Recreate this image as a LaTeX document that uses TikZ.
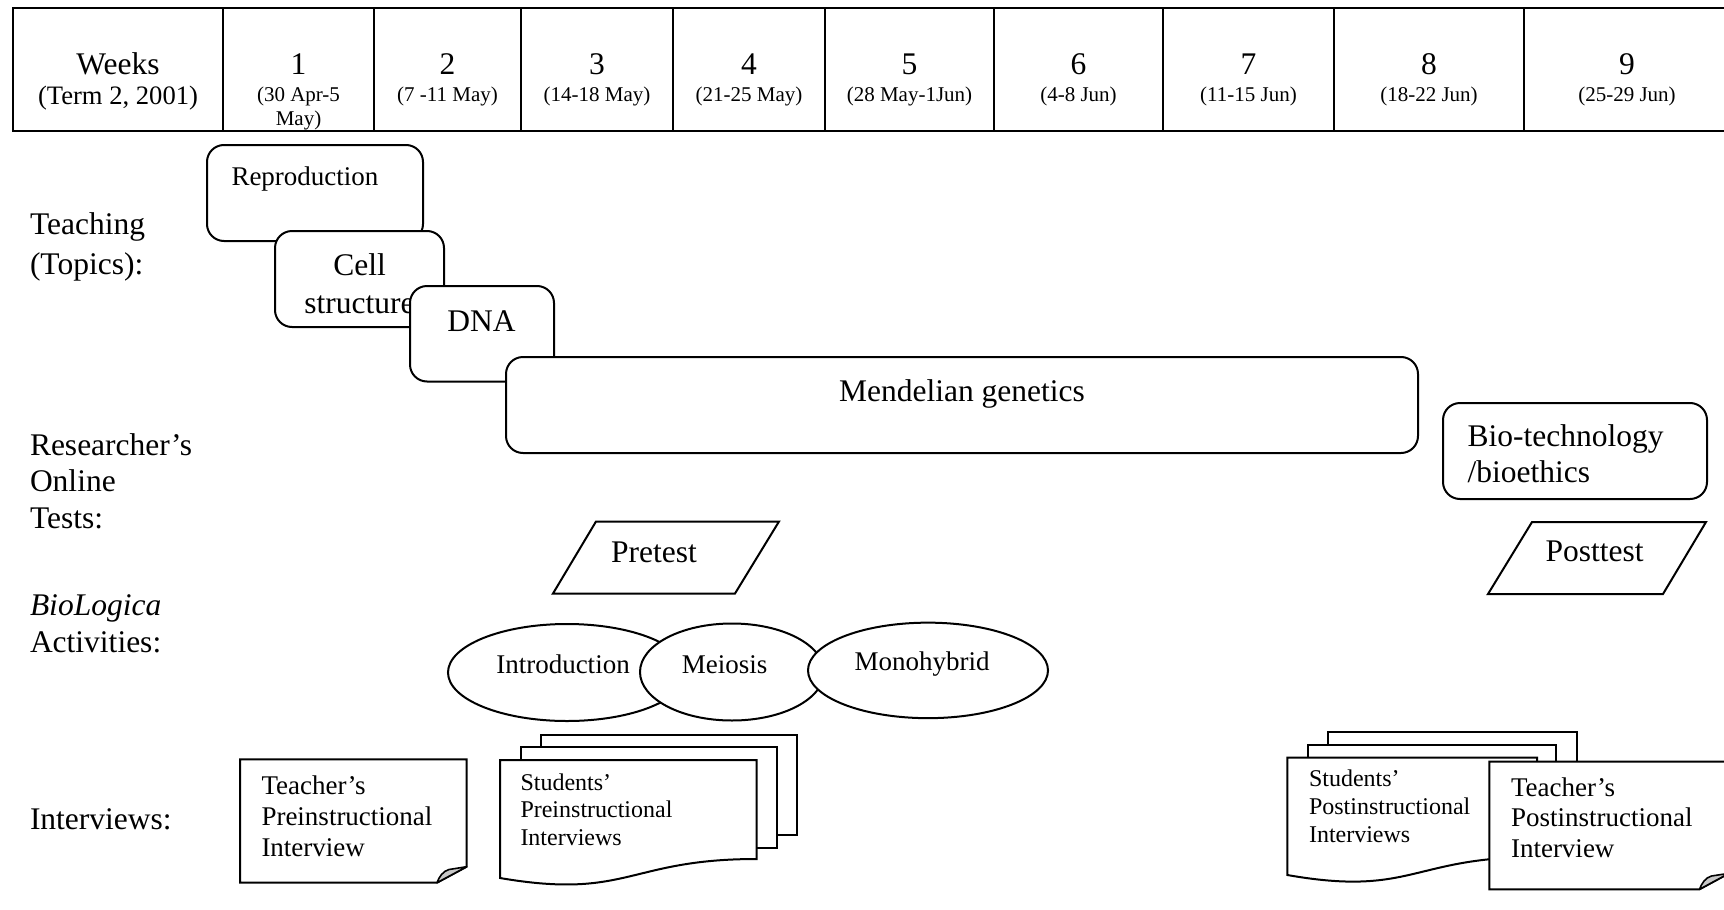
\documentclass[tikz,border=0pt]{standalone}
\usepackage{fontspec}
\setmainfont{Liberation Serif}
\usetikzlibrary{shapes.geometric}

% type sizes (1 unit of the picture = 1pt)
\newcommand{\SzBig}{\fontsize{31.5}{38}\selectfont}
\newcommand{\SzTerm}{\fontsize{26.6}{31}\selectfont}
\newcommand{\SzMid}{\fontsize{27}{31}\selectfont}
\newcommand{\SzStud}{\fontsize{24}{28}\selectfont}
\newcommand{\SzDate}{\fontsize{21}{24}\selectfont}

\begin{document}
\begin{tikzpicture}[x=1pt,y=-1pt,line join=miter,
  txt/.style={inner sep=0pt,outer sep=0pt,anchor=base west},
  ctxt/.style={inner sep=0pt,outer sep=0pt,anchor=base},
  gridline/.style={line width=2.6pt},
  outline/.style={draw=black,line width=2pt,fill=white},
  topic/.style={outline,rectangle,rounded corners=17pt,inner sep=0pt},
  activity/.style={outline,ellipse,inner sep=0pt},
  flap/.style={draw=black,line width=1.6pt,fill=black!22,line join=round},
]
\useasboundingbox (0,0) rectangle (1724,910);

% ---------- week table ----------
\draw[gridline] (13,8) rectangle (1730,131);
\foreach \x in {223,374,521,673,825,994,1163,1334,1524}
  \draw[gridline] (\x,8) -- (\x,131);

\node[ctxt,font=\SzBig]  (wk)   at (118,74.5) {Weeks};
\node[ctxt,font=\SzTerm] (term) at (118,104)  {(Term 2, 2001)};

\node[ctxt,font=\SzBig]  (w1)  at (298.5,74.5) {1};
\node[ctxt,font=\SzDate] (d1a) at (298.5,101)  {(30 Apr-5};
\node[ctxt,font=\SzDate] (d1b) at (298.5,125)  {May)};
\node[ctxt,font=\SzBig]  (w2)  at (447.5,74.5) {2};
\node[ctxt,font=\SzDate] (d2)  at (447.5,101)  {(7 -11 May)};
\node[ctxt,font=\SzBig]  (w3)  at (597,74.5)   {3};
\node[ctxt,font=\SzDate] (d3)  at (597,101)    {(14-18 May)};
\node[ctxt,font=\SzBig]  (w4)  at (749,74.5)   {4};
\node[ctxt,font=\SzDate] (d4)  at (749,101)    {(21-25 May)};
\node[ctxt,font=\SzBig]  (w5)  at (909.5,74.5) {5};
\node[ctxt,font=\SzDate] (d5)  at (909.5,101)  {(28 May-1Jun)};
\node[ctxt,font=\SzBig]  (w6)  at (1078.5,74.5){6};
\node[ctxt,font=\SzDate] (d6)  at (1078.5,101) {(4-8 Jun)};
\node[ctxt,font=\SzBig]  (w7)  at (1248.5,74.5){7};
\node[ctxt,font=\SzDate] (d7)  at (1248.5,101) {(11-15 Jun)};
\node[ctxt,font=\SzBig]  (w8)  at (1429,74.5)  {8};
\node[ctxt,font=\SzDate] (d8)  at (1429,101)   {(18-22 Jun)};
\node[ctxt,font=\SzBig]  (w9)  at (1627,74.5)  {9};
\node[ctxt,font=\SzDate] (d9)  at (1627,101)   {(25-29 Jun)};

% ---------- row labels ----------
\node[txt,font=\SzBig] (teach1) at (30,234)   {Teaching};
\node[txt,font=\SzBig] (teach2) at (30,274)   {(Topics):};
\node[txt,font=\SzBig] (res1)   at (30,455)   {Researcher’s};
\node[txt,font=\SzBig] (res2)   at (30,491.5) {Online};
\node[txt,font=\SzBig] (res3)   at (30,528)   {Tests:};
\node[txt,font=\SzBig] (act1)   at (30,615)   {\textit{BioLogica}};
\node[txt,font=\SzBig] (act2)   at (30,652)   {Activities:};
\node[txt,font=\SzBig] (intv)   at (30,829)   {Interviews:};

% ---------- teaching topics (each box overlaps the previous one) ----------
\node[topic,minimum width=216pt,minimum height=96pt] (repro) at (315,193) {};
\node[txt,font=\SzMid] (reprot) at (231.5,185) {Reproduction};

\node[topic,minimum width=169pt,minimum height=96pt] (cell) at (359.5,279) {};
\node[ctxt,font=\SzBig] (cellt1) at (359.5,275) {Cell};
\node[ctxt,font=\SzBig] (cellt2) at (359.5,313) {structure};

\node[topic,minimum width=144pt,minimum height=95.5pt] (dna) at (482,333.75) {};
\node[ctxt,font=\SzBig] (dnat) at (481.5,331) {DNA};

\node[topic,minimum width=912pt,minimum height=96pt] (mend) at (962,405) {};
\node[ctxt,font=\SzBig] (mendt) at (962,401.5) {Mendelian genetics};

\node[topic,minimum width=264pt,minimum height=96pt] (bio) at (1575,451) {};
\node[txt,font=\SzBig] (biot1) at (1467.5,446) {Bio-technology};
\node[txt,font=\SzBig] (biot2) at (1467.5,482) {/bioethics};

% ---------- online tests ----------
\draw[outline] (596,521.5) -- (779,521.5) -- (735,593.5) -- (553,593.5) -- cycle;
\node[ctxt,font=\SzBig] (pret) at (654,562) {Pretest};
\draw[outline] (1532,522) -- (1706,522) -- (1663,594) -- (1488,594) -- cycle;
\node[ctxt,font=\SzBig] (postt) at (1594.5,561.7) {Posttest};

% ---------- BioLogica activities ----------
\node[activity,minimum width=238pt,minimum height=97pt] (intro) at (567,672.5) {};
\node[ctxt,font=\SzMid] (introt) at (563,673) {Introduction};
\node[activity,minimum width=184pt,minimum height=97pt] (meio) at (732,672) {};
\node[ctxt,font=\SzMid] (meiot) at (724.7,673) {Meiosis};
\node[activity,minimum width=240pt,minimum height=95.5pt] (mono) at (928,670.4) {};
\node[ctxt,font=\SzMid] (monot) at (922,670.5) {Monohybrid};

% ---------- interviews: before instruction ----------
\draw[outline] (240,759.3) -- (466.7,759.3) -- (466.7,866.7) -- (437,882.7) -- (240,882.7) -- cycle;
\draw[flap] (437,882.7) -- (466.7,866.7) -- (449,869.5) .. controls (443,871) and (439,877) .. (437,882.7) -- cycle;
\node[txt,font=\SzMid] (tpre1) at (261.5,794.5) {Teacher’s};
\node[txt,font=\SzMid] (tpre2) at (261.5,825.5) {Preinstructional};
\node[txt,font=\SzMid] (tpre3) at (261.5,856)   {Interview};

\draw[outline] (540.7,734.7) rectangle (797,835);
\draw[outline] (520.7,747.3) rectangle (776.5,847.5);
\draw[outline] (500,760) -- (756.5,760) -- (756.5,859) .. controls (628,859) and (628,900) .. (500,878) -- cycle;
\node[txt,font=\SzStud] (spre1) at (520.5,790.5) {Students’};
\node[txt,font=\SzStud] (spre2) at (520.5,817.5) {Preinstructional};
\node[txt,font=\SzStud] (spre3) at (520.5,845)   {Interviews};

% ---------- interviews: after instruction ----------
\draw[outline] (1327.7,732.3) rectangle (1576.7,832);
\draw[outline] (1308.3,745) rectangle (1556,845);
\draw[outline] (1287.3,757.7) -- (1537,757.7) -- (1537,857) .. controls (1412,857) and (1412,897) .. (1287.3,875) -- cycle;
\node[txt,font=\SzStud] (spost1) at (1309,786)   {Students’};
\node[txt,font=\SzStud] (spost2) at (1309,814.5) {Postinstructional};
\node[txt,font=\SzStud] (spost3) at (1309,842.5) {Interviews};

\draw[outline] (1489.3,761.7) -- (1729,761.7) -- (1729,873.3) -- (1699.5,889.3) -- (1489.3,889.3) -- cycle;
\draw[flap] (1699.5,889.3) -- (1729,873.3) -- (1711.5,876) .. controls (1705.5,877.5) and (1701.5,883.5) .. (1699.5,889.3) -- cycle;
\node[txt,font=\SzMid] (tpost1) at (1511,796)   {Teacher’s};
\node[txt,font=\SzMid] (tpost2) at (1511,826.5) {Postinstructional};
\node[txt,font=\SzMid] (tpost3) at (1511,857)   {Interview};
\end{tikzpicture}
\end{document}
